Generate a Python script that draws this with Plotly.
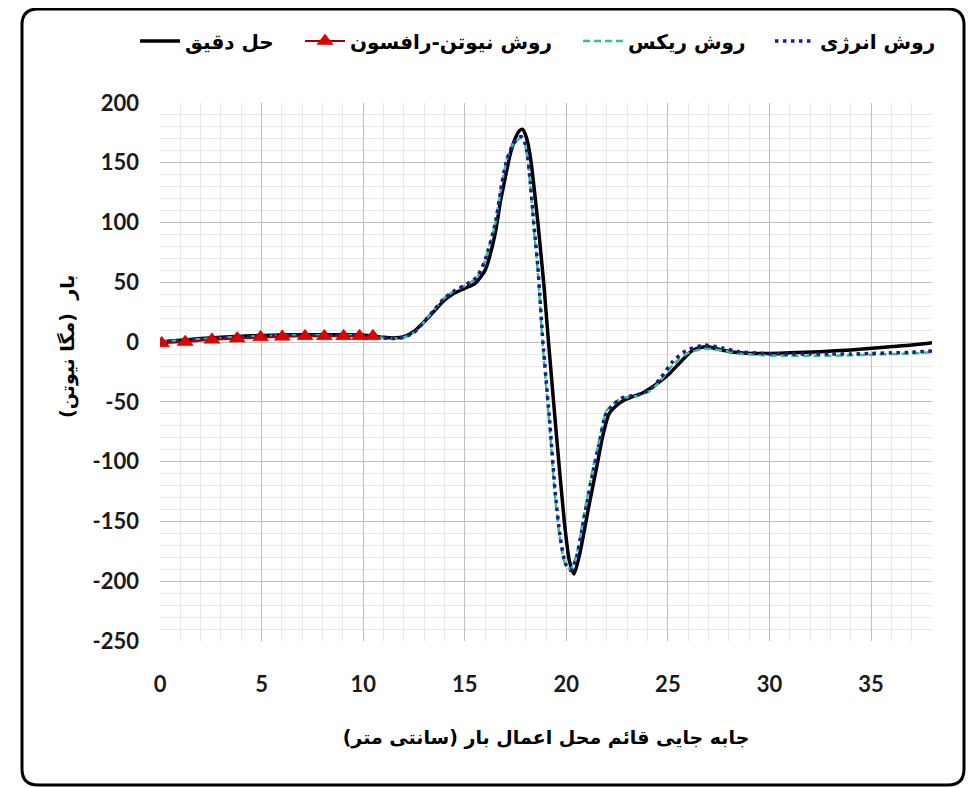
import plotly.graph_objects as go

# ---------------- data ----------------
x_exact = [0, 1, 2, 3, 4, 5, 6, 7, 8, 9, 10, 11, 11.5, 12, 12.5, 13, 13.5, 14, 14.5, 15,
           15.5, 16, 16.5, 16.75, 17, 17.25, 17.5, 17.7, 17.85, 18.0, 18.15, 18.3, 18.6, 18.9,
           19.1, 19.5, 19.9, 20.15, 20.38, 20.65, 21.1, 21.5, 21.8, 22.1, 22.4, 22.8, 23.2,
           23.7, 24.1, 24.6, 25.1, 25.6, 26.2, 26.6, 27.05, 27.5, 28.05, 29.2, 30, 31, 32.5,
           34, 35.8, 37, 38]
y_exact = [0, 1.5, 3, 4, 5, 5.5, 6, 6.2, 6.2, 6.2, 6, 4, 3.5, 4.5, 9, 17, 26, 35, 41, 45,
           49, 60, 91, 117, 138, 158, 171, 177, 178, 173, 163, 146, 100, 47,
           5, -75, -150, -183, -194, -178, -138, -104, -78, -60, -54, -49, -46,
           -43, -39, -33, -26, -17, -7, -4.5, -4, -6, -8, -9.5, -9.5, -9, -8,
           -6.5, -4, -2.5, -0.5]

x_energy = [0, 1, 2, 3, 4, 5, 6, 7, 8, 9, 10, 11, 11.5, 12, 12.5, 13, 13.5, 14, 14.5, 15,
            15.6, 16, 16.5, 16.83, 17.08, 17.4, 17.78, 18.0, 18.23, 18.4, 18.6, 18.85, 19.2,
            19.45, 19.7, 19.95, 20.21, 20.5, 20.9, 21.3, 21.62, 21.95, 22.28, 22.7, 23.5, 24.1,
            24.6, 25.25, 25.9, 26.8, 27.7, 28.5, 29.7, 31, 32, 33, 34, 35, 36, 37, 38]
y_energy = [0, 1.5, 2.5, 3.5, 4.5, 5, 5.5, 5.8, 5.8, 5.8, 5.5, 3.5, 3, 4, 8, 17, 27, 37, 43, 47.6,
            54.6, 68.5, 99, 133, 153, 166, 172, 165, 133, 99, 63, 0, -70,
            -125, -163, -185, -191, -180, -145, -110, -85, -60, -53, -47, -44, -40,
            -31, -16, -7, -2.5, -5, -8, -9.5, -10, -10, -10, -10, -9.5, -9, -8.5, -7.5]

x_riks = [0, 1, 2, 3, 4, 5, 6, 7, 8, 9, 10, 11, 11.5, 12, 12.5, 13, 13.5, 14, 14.5, 15,
          15.6, 16, 16.5, 16.83, 17.08, 17.4, 17.78, 18.0, 18.23, 18.4, 18.6, 18.85, 19.2,
          19.45, 19.7, 19.95, 20.21, 20.5, 20.9, 21.3, 21.62, 21.95, 22.28, 22.7, 23.5, 24.1,
          24.6, 25.25, 25.9, 26.8, 27.7, 28.5, 29.7, 31, 32, 33, 34, 35, 36, 37, 38]
y_riks = [0, 1.5, 2.5, 3.5, 4.5, 5, 5.5, 5.8, 5.8, 5.8, 5.5, 3.5, 3, 4, 8, 17, 27, 37, 43, 47,
          54, 68, 99, 133, 153, 166, 171, 163, 130, 95, 58, -5, -76,
          -130, -166, -186, -190, -178, -141, -106, -82, -58, -52, -47, -45, -41,
          -33, -19, -10, -5.5, -7, -9.5, -11, -11.5, -11.5, -11.5, -11, -10.5, -10, -9.5, -8.5]

x_nr = [0.08, 1.24, 2.56, 3.8, 4.95, 6.02, 7.14, 8.09, 9.04, 9.82, 10.48]
y_nr = [-1, 0, 2, 3, 4, 4.5, 5, 5, 5, 5, 5]

name_exact = "حل دقیق"
name_nr = "روش نیوتن-رافسون"
name_riks = "روش ریکس"
name_energy = "روش انرژی"

x_title = "جابه جایی قائم محل اعمال بار (سانتی متر)"
y_title = "بار  (مگا نیوتن)"

x_ticks = [0, 5, 10, 15, 20, 25, 30, 35]
y_ticks = [200, 150, 100, 50, 0, -50, -100, -150, -200, -250]

# ---------------- figure ----------------
# the page body has an 8px margin, so the figure is sized/placed to compensate
OFF = 8
W, H = 974 - OFF, 788 - OFF
PL, PR, PT, PB = 160, 932, 103, 641          # plot area in window pixels
ML, MR, MT, MB = PL - OFF, W - (PR - OFF), PT - OFF, H - (PB - OFF)

AR_FONT = "DejaVu Sans"
NUM_FONT = "Lato, Carlito, DejaVu Sans"

fig = go.Figure()
fig.add_trace(go.Scatter(x=x_exact, y=y_exact, name=name_exact, mode="lines",
                         line=dict(color="black", width=3.5, shape="spline", smoothing=0.6),
                         legend="legend", legendrank=1))
fig.add_trace(go.Scatter(x=x_riks, y=y_riks, name=name_riks, mode="lines",
                         line=dict(color="#33c488", width=2.5, dash="7px,4px", shape="spline",
                                   smoothing=0.6),
                         legend="legend3", legendrank=3))
fig.add_trace(go.Scatter(x=x_energy, y=y_energy, name=name_energy, mode="lines",
                         line=dict(color="#1c1c96", width=3.5, dash="3.5px,4.5px", shape="spline",
                                   smoothing=0.6),
                         legend="legend4", legendrank=4))
fig.add_trace(go.Scatter(x=x_nr, y=y_nr, name=name_nr, mode="lines+markers",
                         line=dict(color="#a00000", width=2),
                         marker=dict(symbol="triangle-up", size=14, color="#e00000",
                                     line=dict(color="#b00000", width=0.5)),
                         legend="legend2", legendrank=2))


def xp(px):
    return (px - PL) / (PR - PL)


def yp(py):
    return (PB - py) / (PB - PT)


leg_font = dict(family=AR_FONT, size=20, color="black", weight="bold")
leg_y = yp(41)


def leg(x_px):
    return dict(x=xp(x_px), y=leg_y, xanchor="left", yanchor="middle", orientation="h",
                font=leg_font, bgcolor="rgba(0,0,0,0)", itemwidth=40)


# rounded outer border (window pixels)
L, R, T, B, r = 22, 964, 9, 785, 16
path = (f"M{xp(L)},{yp(T + r)} Q{xp(L)},{yp(T)} {xp(L + r)},{yp(T)} "
        f"L{xp(R - r)},{yp(T)} Q{xp(R)},{yp(T)} {xp(R)},{yp(T + r)} "
        f"L{xp(R)},{yp(B - r)} Q{xp(R)},{yp(B)} {xp(R - r)},{yp(B)} "
        f"L{xp(L + r)},{yp(B)} Q{xp(L)},{yp(B)} {xp(L)},{yp(B - r)} Z")

fig.update_layout(
    width=W, height=H,
    margin=dict(l=ML, r=MR, t=MT, b=MB, autoexpand=False),
    plot_bgcolor="white", paper_bgcolor="white",
    showlegend=True,
    legend=leg(135),
    legend2=leg(300),
    legend3=leg(578),
    legend4=leg(770),
    shapes=[dict(type="path", path=path, xref="paper", yref="paper",
                 line=dict(color="black", width=3), layer="above")],
    annotations=[dict(text=y_title, xref="paper", yref="paper", x=xp(67), y=yp(347),
                      xanchor="center", yanchor="middle", textangle=-90, showarrow=False,
                      font=dict(family=AR_FONT, size=19, color="black", weight="bold"))],
)

fig.update_xaxes(
    range=[0, 38], tickmode="array", tickvals=x_ticks, ticktext=[str(v) for v in x_ticks],
    showgrid=True, gridcolor="#c0c0c0", gridwidth=1.3,
    minor=dict(dtick=1, tick0=0, showgrid=True, gridcolor="#e8e8e8", gridwidth=1),
    zeroline=False, showline=False, ticks="",
    ticklabelstandoff=28,
    tickfont=dict(family=NUM_FONT, size=22, color="#1a1a1a", weight="bold"),
    title=dict(text=x_title, standoff=34,
               font=dict(family=AR_FONT, size=19, color="black", weight="bold")),
)
fig.update_yaxes(
    range=[-250, 200], tickmode="array", tickvals=y_ticks, ticktext=[str(v) for v in y_ticks],
    showgrid=True, gridcolor="#c0c0c0", gridwidth=1.3,
    minor=dict(dtick=10, tick0=0, showgrid=True, gridcolor="#e8e8e8", gridwidth=1),
    zeroline=False, showline=False, ticks="",
    ticklabelstandoff=20,
    tickfont=dict(family=NUM_FONT, size=22, color="#1a1a1a", weight="bold"),
)

fig.write_html("out.html")
